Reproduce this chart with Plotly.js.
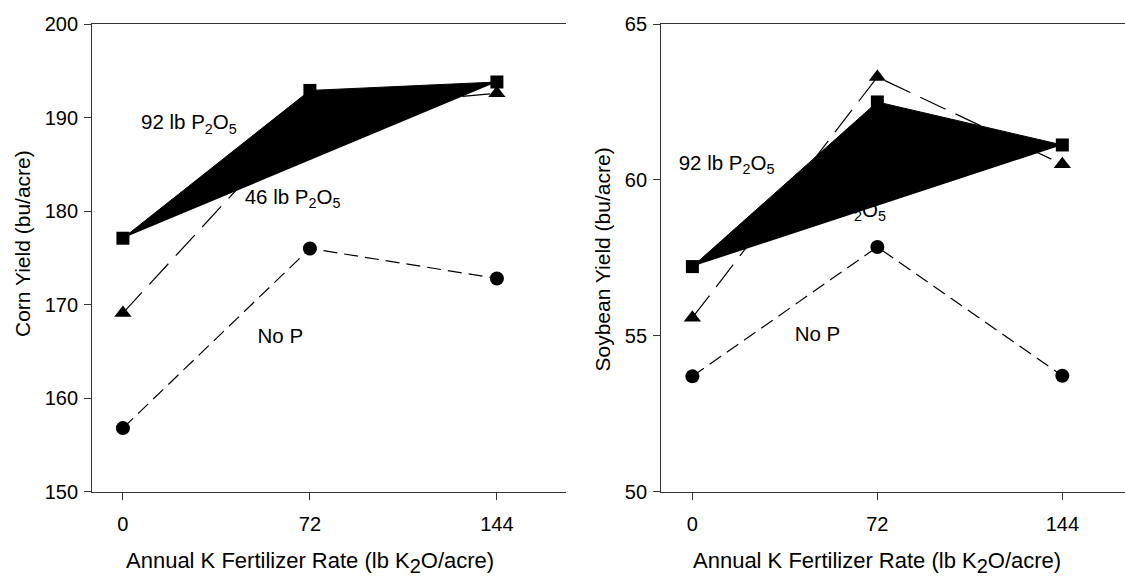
<!DOCTYPE html>
<html>
<head>
<meta charset="utf-8">
<script src="https://cdn.plot.ly/plotly-3.0.1.min.js"></script>
<style>html,body{margin:0;padding:0;background:#fff;}#chart{width:1125px;height:577px;}</style>
</head>
<body>
<div id="chart"></div>
<script>
// ---- data ----
var kRates = [0, 72, 144];
var kTickLabels = ['0', '72', '144'];

var cornNoP = [156.8, 176.0, 172.8];
var corn46P = [169.1, 190.8, 192.6];
var corn92P = [177.1, 192.9, 193.8];

var soyNoP = [53.7, 57.85, 53.72];
var soy46P = [55.58, 63.3, 60.5];
var soy92P = [57.22, 62.5, 61.12];

var cornTicks = [150, 160, 170, 180, 190, 200];
var soyTicks = [50, 55, 60, 65];

var seriesLabels = ['92 lb P<sub>2</sub>O<sub>5</sub>', '46 lb P<sub>2</sub>O<sub>5</sub>', 'No P'];
var cornLabelX = [25.4, 65.3, 60.6];
var cornLabelY = [189.3, 181.3, 166.4];
var soyLabelX = [13.3, 56.7, 48.7];
var soyLabelY = [60.48, 58.98, 55.0];

var xTitle = 'Annual K Fertilizer Rate (lb K<sub><span style="font-size:20px">2</span></sub>O/acre)';

// ---- styling ----
var FONT = 'Arial, "Liberation Sans", sans-serif';
var AX = '#333';

function labelTrace(xs, ys, xa, ya) {
  return {x: xs, y: ys, text: seriesLabels, mode: 'text', textposition: 'middle center',
    textfont: {family: FONT, size: 20.5, color: '#000'}, hoverinfo: 'skip', showlegend: false,
    xaxis: xa, yaxis: ya, cliponaxis: false};
}
function series(ys, xa, ya, sym, size, dash, fill) {
  var t = {x: kRates, y: ys, mode: 'lines+markers', xaxis: xa, yaxis: ya, showlegend: false,
    line: {color: '#000', width: 1.2, dash: dash},
    marker: {symbol: sym, size: size, color: '#000'}, cliponaxis: false};
  if (fill) { t.fill = 'toself'; t.fillcolor = '#000'; t.line.width = 1; }
  return t;
}

var data = [
  labelTrace(cornLabelX, cornLabelY, 'x', 'y'),
  labelTrace(soyLabelX, soyLabelY, 'x2', 'y2'),
  series(cornNoP, 'x', 'y', 'circle', 14, '14px,7px', false),
  series(corn46P, 'x', 'y', 'triangle-up', 15, '28px,11px', false),
  series(corn92P, 'x', 'y', 'square', 13, 'solid', true),
  series(soyNoP, 'x2', 'y2', 'circle', 14, '14px,7px', false),
  series(soy46P, 'x2', 'y2', 'triangle-up', 15, '28px,11px', false),
  series(soy92P, 'x2', 'y2', 'square', 13, 'solid', true)
];

var tickFont = {family: FONT, size: 20, color: '#000'};
function xAxis(domain, range, anchor) {
  return {domain: domain, range: range, anchor: anchor, tickvals: kRates, ticktext: kTickLabels,
    ticks: 'outside', ticklen: 7, tickwidth: 1, tickcolor: AX, showline: true, linecolor: AX, linewidth: 1,
    mirror: true, showgrid: false, zeroline: false, tickfont: tickFont, ticklabelstandoff: 7, fixedrange: true};
}
function yAxis(range, ticks, anchor) {
  return {domain: [0.1478, 0.9584], range: range, anchor: anchor, tickvals: ticks,
    ticks: 'outside', ticklen: 7, tickwidth: 1, tickcolor: AX, showline: true, linecolor: AX, linewidth: 1,
    showgrid: false, zeroline: false, tickfont: tickFont, ticklabelstandoff: 2, fixedrange: true};
}

var titleFont = {family: FONT, size: 21, color: '#000'};
var xTitleFont = {family: FONT, size: 22, color: '#000'};

var layout = {
  width: 1125, height: 577,
  margin: {l: 0, r: 0, t: 0, b: 0},
  paper_bgcolor: '#fff', plot_bgcolor: 'rgba(0,0,0,0)',
  showlegend: false,
  font: {family: FONT, color: '#000'},
  xaxis: xAxis([0.0818, 0.5031], [-11.9, 170.6], 'y'),
  yaxis: yAxis([150, 200], cornTicks, 'x'),
  yaxis3: {domain: [0.1478, 0.9584], range: [150, 200], overlaying: 'y', side: 'right', anchor: 'x',
    tickvals: cornTicks, ticks: 'inside', ticklen: 7, tickwidth: 1, tickcolor: AX, showline: true,
    linecolor: AX, linewidth: 1, showticklabels: false, showgrid: false, zeroline: false, fixedrange: true},
  xaxis2: xAxis([0.5876, 1], [-12.2, 168.4], 'y2'),
  yaxis2: yAxis([50, 65], soyTicks, 'x2'),
  annotations: [
    {xref: 'paper', yref: 'paper', x: 310 / 1125, y: 1 - 562 / 577, xanchor: 'center', yanchor: 'middle',
      text: xTitle, showarrow: false, font: xTitleFont},
    {xref: 'paper', yref: 'paper', x: 876.5 / 1125, y: 1 - 562 / 577, xanchor: 'center', yanchor: 'middle',
      text: xTitle, showarrow: false, font: xTitleFont},
    {xref: 'paper', yref: 'paper', x: 22 / 1125, y: 1 - 244 / 577, xanchor: 'center', yanchor: 'middle', textangle: -90,
      text: 'Corn Yield (bu/acre)', showarrow: false, font: titleFont},
    {xref: 'paper', yref: 'paper', x: 602 / 1125, y: 1 - 259.5 / 577, xanchor: 'center', yanchor: 'middle', textangle: -90,
      text: 'Soybean Yield (bu/acre)', showarrow: false, font: titleFont}
  ]
};

Plotly.newPlot('chart', data, layout, {displayModeBar: false, staticPlot: true});
</script>
</body>
</html>
